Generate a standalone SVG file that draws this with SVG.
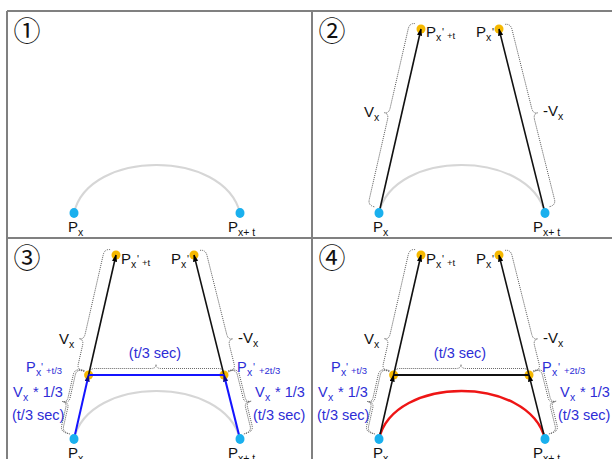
<svg xmlns="http://www.w3.org/2000/svg" xmlns:xlink="http://www.w3.org/1999/xlink" width="612" height="459" viewBox="0 0 612 459">
<style>
.frame{stroke:#808080;stroke-width:2;fill:none}
.ln{stroke:#111;stroke-width:1.6;fill:none}
.bl{stroke:#1414ff;stroke-width:2;fill:none}
.hk{stroke:#111;stroke-width:2;fill:none}
.br{fill:none;stroke:#555;stroke-width:0.9;stroke-dasharray:1 1}
.arc{fill:none;stroke:#d6d6d6;stroke-width:2}
.red{fill:none;stroke:#ee1515;stroke-width:2.5}
.t{font-family:"Liberation Sans",Arial,sans-serif;font-size:15px;fill:#111}
.s{font-size:10.5px}
.ss{font-size:9.5px}
.bt{fill:#2d2dd6;font-size:14.5px}
.num{font-family:"Noto Sans CJK JP","DejaVu Sans",sans-serif;font-size:27px;fill:#111;text-anchor:middle}
.pb{fill:#1ab0ee}
.po{fill:#f5b800}
</style>
<defs>
<marker id="ah" viewBox="0 0 8 6" refX="7.5" refY="3" markerWidth="7" markerHeight="5.5" markerUnits="userSpaceOnUse" orient="auto"><path d="M0,0 L8,3 L0,6 z" fill="#000"/></marker>
<marker id="ahb" viewBox="0 0 8 6" refX="7.5" refY="3" markerWidth="7" markerHeight="5.5" markerUnits="userSpaceOnUse" orient="auto"><path d="M0,0 L8,3 L0,6 z" fill="#0a0a90"/></marker>
<path id="braceFull" d="M5,-6 Q5,-12.5 11,-12.5 L93,-12.5 Q99,-12.5 99,-17 Q99,-12.5 105,-12.5 L186,-12.5 Q192.7,-12.5 192.7,-6"/>
<path id="braceUp" d="M68,-5 Q68,-12.5 74,-12.5 L93,-12.5 Q99,-12.5 99,-17 Q99,-12.5 105,-12.5 L186,-12.5 Q192.7,-12.5 192.7,-6"/>
<path id="braceLow" d="M4,-5 Q4,-13 10,-13 L29,-13 Q34,-13 34,-18 Q34,-13 39,-13 L63,-13 Q69,-13 69,-5"/>
<path id="arcPath" d="M74,213 C88.6,149 224,149 240,213"/>
</defs>

<g id="frames">
<line class="frame" x1="7" y1="11" x2="612" y2="11"/>
<line class="frame" x1="7" y1="11" x2="7" y2="459"/>
<line class="frame" x1="312" y1="11" x2="312" y2="459"/>
<line class="frame" x1="7" y1="238" x2="612" y2="238"/>
</g>

<!-- Panel 1 -->
<g id="panel1">
<text class="num" x="27" y="41">①</text>
<use href="#arcPath" class="arc"/>
<g id="p1-px"><ellipse class="pb" cx="74" cy="213" rx="4.5" ry="5"/><text class="t" x="68" y="232">P<tspan class="s" dy="4">x</tspan></text></g>
<g id="p1-pxt"><ellipse class="pb" cx="240" cy="213" rx="4.5" ry="5"/><text class="t" x="228" y="232">P<tspan class="s" dy="4">x+ t</tspan></text></g>
</g>

<!-- Panel 2 -->
<g id="panel2" transform="translate(305,0)">
<text class="num" x="27" y="41">②</text>
<use href="#arcPath" class="arc"/>
<g id="p2-braces">
<use href="#braceFull" class="br" transform="translate(74,213) rotate(-77.14)"/>
<use href="#braceFull" class="br" transform="translate(240,213) rotate(-104.04) scale(1,-1)"/>
</g>
<g id="p2-top-l"><circle class="po" cx="116" cy="29" r="4.5"/><text class="t" x="121" y="37">P<tspan class="s" x="131" y="41">x</tspan><tspan class="s" x="137" y="36">'</tspan><tspan class="ss" x="142" y="39">+t</tspan></text></g>
<g id="p2-top-r"><circle class="po" cx="194" cy="29" r="4.5"/><text class="t" x="171" y="37">P<tspan class="s" x="181" y="41">x</tspan><tspan class="s" x="187" y="36">'</tspan></text></g>
<g id="p2-connectors">
<line class="ln" x1="74" y1="213" x2="116" y2="29" marker-end="url(#ah)"/>
<line class="ln" x1="240" y1="213" x2="194" y2="29" marker-end="url(#ah)"/>
</g>
<text class="t" x="59" y="117">V<tspan class="s" x="69" y="121">x</tspan></text>
<text class="t" x="238" y="116">-V<tspan class="s" x="253" y="120">x</tspan></text>
<g id="p2-px"><ellipse class="pb" cx="74" cy="213" rx="4.5" ry="5"/><text class="t" x="68" y="232">P<tspan class="s" dy="4">x</tspan></text></g>
<g id="p2-pxt"><ellipse class="pb" cx="240" cy="213" rx="4.5" ry="5"/><text class="t" x="228" y="232">P<tspan class="s" dy="4">x+ t</tspan></text></g>
</g>

<!-- Panel 3 -->
<g id="panel3" transform="translate(0,226)">
<text class="num" x="27" y="42">③</text>
<use href="#arcPath" class="arc"/>
<g id="p3-braces">
<use href="#braceUp" class="br" transform="translate(74,213) rotate(-77.14)"/>
<use href="#braceUp" class="br" transform="translate(240,213) rotate(-104.04) scale(1,-1)"/>
<use href="#braceLow" class="br" transform="translate(74,213) rotate(-77.14)"/>
<use href="#braceLow" class="br" transform="translate(74,213) rotate(-77.14) translate(0,-2)"/>
<use href="#braceLow" class="br" transform="translate(240,213) rotate(-104.04) scale(1,-1)"/>
<use href="#braceLow" class="br" transform="translate(240,213) rotate(-104.04) scale(1,-1) translate(0,-2)"/>
<path class="br" d="M90,146 Q90,142.5 95,142.5 L151,142.5 Q156,142.5 156,138.5 Q156,142.5 161,142.5 L218,142.5 Q223,142.5 223,146"/>
</g>
<g id="p3-top-l"><circle class="po" cx="116" cy="29" r="4.5"/><text class="t" x="121" y="38">P<tspan class="s" x="131" y="42">x</tspan><tspan class="s" x="137" y="37">'</tspan><tspan class="ss" x="142" y="40">+t</tspan></text></g>
<g id="p3-top-r"><circle class="po" cx="194" cy="29" r="4.5"/><text class="t" x="171" y="38">P<tspan class="s" x="181" y="42">x</tspan><tspan class="s" x="187" y="37">'</tspan></text></g>
<g id="p3-mid-l"><circle class="po" cx="88.6" cy="149" r="4.5"/></g>
<g id="p3-mid-r"><circle class="po" cx="224" cy="149" r="4.5"/></g>
<g id="p3-connectors">
<line class="ln" x1="88.6" y1="149" x2="116" y2="29" marker-end="url(#ah)"/>
<line class="ln" x1="224" y1="149" x2="194" y2="29" marker-end="url(#ah)"/>
<line class="bl" x1="88.6" y1="149" x2="224" y2="149"/>
<line class="bl" x1="74" y1="213" x2="88.6" y2="149" marker-end="url(#ahb)"/>
<line class="bl" x1="240" y1="213" x2="224" y2="149" marker-end="url(#ahb)"/>
</g>
<text class="t" x="59" y="118">V<tspan class="s" x="69" y="122">x</tspan></text>
<text class="t" x="238" y="117">-V<tspan class="s" x="253" y="121">x</tspan></text>
<text class="t bt" x="155" y="132" text-anchor="middle">(t/3 sec)</text>
<text class="t bt" x="26" y="146">P<tspan class="s" x="36" y="150">x</tspan><tspan class="s" x="41" y="145">'</tspan><tspan class="ss" x="46" y="148">+t/3</tspan></text>
<text class="t bt" x="13" y="171">V<tspan class="s" x="23" y="175">x</tspan><tspan x="33" y="171">* 1/3</tspan></text>
<text class="t bt" x="12" y="194">(t/3 sec)</text>
<text class="t bt" x="237" y="146">P<tspan class="s" x="247" y="150">x</tspan><tspan class="s" x="253" y="145">'</tspan><tspan class="ss" x="259" y="148">+2t/3</tspan></text>
<text class="t bt" x="255" y="171">V<tspan class="s" x="265" y="175">x</tspan><tspan x="275" y="171">* 1/3</tspan></text>
<text class="t bt" x="253" y="194">(t/3 sec)</text>
<g id="p3-px"><ellipse class="pb" cx="74" cy="213" rx="4.5" ry="5"/><text class="t" x="68" y="232">P<tspan class="s" dy="4">x</tspan></text></g>
<g id="p3-pxt"><ellipse class="pb" cx="240" cy="213" rx="4.5" ry="5"/><text class="t" x="228" y="232">P<tspan class="s" dy="4">x+ t</tspan></text></g>
</g>

<!-- Panel 4 -->
<g id="panel4" transform="translate(305,226)">
<text class="num" x="27" y="42">④</text>
<use href="#arcPath" class="red"/>
<g id="p4-braces">
<use href="#braceUp" class="br" transform="translate(74,213) rotate(-77.14)"/>
<use href="#braceUp" class="br" transform="translate(240,213) rotate(-104.04) scale(1,-1)"/>
<use href="#braceLow" class="br" transform="translate(74,213) rotate(-77.14)"/>
<use href="#braceLow" class="br" transform="translate(74,213) rotate(-77.14) translate(0,-2)"/>
<use href="#braceLow" class="br" transform="translate(240,213) rotate(-104.04) scale(1,-1)"/>
<use href="#braceLow" class="br" transform="translate(240,213) rotate(-104.04) scale(1,-1) translate(0,-2)"/>
<path class="br" d="M90,146 Q90,142.5 95,142.5 L151,142.5 Q156,142.5 156,138.5 Q156,142.5 161,142.5 L218,142.5 Q223,142.5 223,146"/>
</g>
<g id="p4-top-l"><circle class="po" cx="116" cy="29" r="4.5"/><text class="t" x="121" y="38">P<tspan class="s" x="131" y="42">x</tspan><tspan class="s" x="137" y="37">'</tspan><tspan class="ss" x="142" y="40">+t</tspan></text></g>
<g id="p4-top-r"><circle class="po" cx="194" cy="29" r="4.5"/><text class="t" x="171" y="38">P<tspan class="s" x="181" y="42">x</tspan><tspan class="s" x="187" y="37">'</tspan></text></g>
<g id="p4-mid-l"><circle class="po" cx="88.6" cy="149" r="4.5"/></g>
<g id="p4-mid-r"><circle class="po" cx="224" cy="149" r="4.5"/></g>
<g id="p4-connectors">
<line class="ln" x1="88.6" y1="149" x2="116" y2="29" marker-end="url(#ah)"/>
<line class="ln" x1="224" y1="149" x2="194" y2="29" marker-end="url(#ah)"/>
<line class="hk" x1="88.6" y1="149" x2="224" y2="149"/>
<line class="ln" x1="74" y1="213" x2="88.6" y2="149" marker-end="url(#ah)"/>
<line class="ln" x1="240" y1="213" x2="224" y2="149" marker-end="url(#ah)"/>
</g>
<text class="t" x="59" y="118">V<tspan class="s" x="69" y="122">x</tspan></text>
<text class="t" x="238" y="117">-V<tspan class="s" x="253" y="121">x</tspan></text>
<text class="t bt" x="155" y="132" text-anchor="middle">(t/3 sec)</text>
<text class="t bt" x="26" y="146">P<tspan class="s" x="36" y="150">x</tspan><tspan class="s" x="41" y="145">'</tspan><tspan class="ss" x="46" y="148">+t/3</tspan></text>
<text class="t bt" x="13" y="171">V<tspan class="s" x="23" y="175">x</tspan><tspan x="33" y="171">* 1/3</tspan></text>
<text class="t bt" x="12" y="194">(t/3 sec)</text>
<text class="t bt" x="237" y="146">P<tspan class="s" x="247" y="150">x</tspan><tspan class="s" x="253" y="145">'</tspan><tspan class="ss" x="259" y="148">+2t/3</tspan></text>
<text class="t bt" x="255" y="171">V<tspan class="s" x="265" y="175">x</tspan><tspan x="275" y="171">* 1/3</tspan></text>
<text class="t bt" x="253" y="194">(t/3 sec)</text>
<g id="p4-px"><ellipse class="pb" cx="74" cy="213" rx="4.5" ry="5"/><text class="t" x="68" y="232">P<tspan class="s" dy="4">x</tspan></text></g>
<g id="p4-pxt"><ellipse class="pb" cx="240" cy="213" rx="4.5" ry="5"/><text class="t" x="228" y="232">P<tspan class="s" dy="4">x+ t</tspan></text></g>
</g>
</svg>
